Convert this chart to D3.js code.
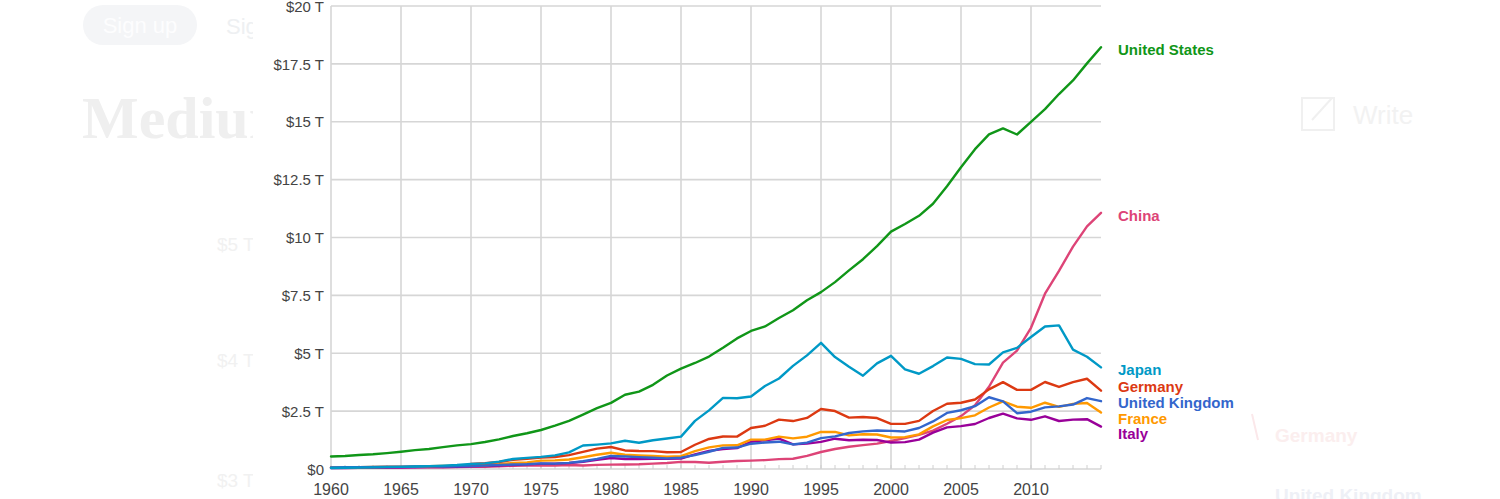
<!DOCTYPE html>
<html>
<head>
<meta charset="utf-8">
<script src="https://cdn.jsdelivr.net/npm/d3@7"></script>
<style>
html,body{margin:0;padding:0;background:#fff;overflow:hidden;}
svg{display:block;font-family:"Liberation Sans",Arial,sans-serif;}
</style>
</head>
<body>
<svg id="chart" width="1500" height="499"></svg>
<script>
// ---- data (GDP, current US$, trillions) ----
const years = d3.range(1960, 2016);
const yTicks = [0, 2.5, 5, 7.5, 10, 12.5, 15, 17.5, 20];
const yTickLabels = ["$0", "$2.5 T", "$5 T", "$7.5 T", "$10 T", "$12.5 T", "$15 T", "$17.5 T", "$20 T"];
const xTicks = [1960, 1965, 1970, 1975, 1980, 1985, 1990, 1995, 2000, 2005, 2010];

const countries = ["United States", "China", "Japan", "Germany", "United Kingdom", "France", "Italy"];
const colors = ["#109618", "#dd4477", "#0099c6", "#dc3912", "#3366cc", "#ff9900", "#990099"];

const unitedStates = [0.543,0.563,0.605,0.638,0.686,0.744,0.815,0.862,0.943,1.020,1.073,1.165,1.280,1.425,1.545,1.685,1.873,2.082,2.352,2.627,2.857,3.207,3.343,3.634,4.037,4.339,4.580,4.855,5.236,5.642,5.963,6.158,6.520,6.859,7.287,7.640,8.073,8.578,9.063,9.631,10.252,10.582,10.936,11.458,12.214,13.037,13.815,14.452,14.713,14.449,14.992,15.543,16.197,16.785,17.522,18.219];
const china = [0.060,0.050,0.047,0.051,0.060,0.070,0.077,0.073,0.070,0.079,0.093,0.100,0.114,0.139,0.144,0.163,0.154,0.175,0.150,0.178,0.191,0.196,0.205,0.230,0.260,0.309,0.301,0.273,0.312,0.348,0.361,0.383,0.427,0.445,0.564,0.734,0.864,0.962,1.029,1.094,1.211,1.339,1.471,1.660,1.955,2.286,2.752,3.552,4.598,5.110,6.101,7.573,8.561,9.607,10.482,11.065];
const japan = [0.044,0.054,0.061,0.070,0.082,0.091,0.106,0.124,0.147,0.172,0.213,0.241,0.318,0.432,0.479,0.522,0.587,0.721,1.014,1.055,1.105,1.219,1.135,1.243,1.318,1.399,2.079,2.533,3.072,3.055,3.133,3.584,3.909,4.455,4.907,5.449,4.834,4.415,4.032,4.562,4.888,4.304,4.115,4.446,4.815,4.755,4.530,4.515,5.038,5.231,5.700,6.157,6.203,5.156,4.851,4.390];
const germany = [null,null,null,null,null,null,null,null,null,null,0.215,0.249,0.300,0.398,0.445,0.490,0.520,0.601,0.741,0.882,0.951,0.801,0.777,0.770,0.725,0.733,1.047,1.298,1.402,1.398,1.772,1.868,2.132,2.071,2.206,2.592,2.503,2.219,2.244,2.200,1.950,1.950,2.079,2.506,2.819,2.861,3.003,3.440,3.752,3.418,3.417,3.758,3.544,3.753,3.898,3.382];
const unitedKingdom = [0.072,0.077,0.081,0.086,0.094,0.101,0.108,0.113,0.108,0.117,0.131,0.148,0.170,0.193,0.206,0.241,0.233,0.263,0.335,0.438,0.564,0.540,0.515,0.489,0.461,0.489,0.602,0.745,0.911,0.926,1.093,1.143,1.180,1.061,1.140,1.335,1.408,1.554,1.625,1.660,1.648,1.622,1.771,2.054,2.422,2.538,2.713,3.100,2.923,2.411,2.475,2.660,2.704,2.784,3.064,2.929];
const france = [0.062,0.068,0.076,0.085,0.094,0.102,0.110,0.119,0.130,0.141,0.149,0.165,0.204,0.264,0.286,0.361,0.373,0.410,0.507,0.614,0.701,0.615,0.585,0.559,0.530,0.554,0.772,0.935,1.019,1.025,1.269,1.269,1.401,1.323,1.394,1.601,1.605,1.452,1.503,1.492,1.362,1.376,1.494,1.840,2.116,2.196,2.319,2.657,2.918,2.690,2.643,2.862,2.684,2.811,2.852,2.438];
const italy = [0.040,0.045,0.050,0.058,0.063,0.068,0.073,0.081,0.088,0.097,0.113,0.125,0.145,0.174,0.199,0.228,0.230,0.258,0.315,0.393,0.477,0.431,0.428,0.440,0.440,0.454,0.632,0.784,0.862,0.905,1.178,1.243,1.316,1.062,1.096,1.171,1.309,1.240,1.266,1.252,1.142,1.163,1.267,1.569,1.799,1.853,1.943,2.203,2.391,2.185,2.125,2.276,2.073,2.131,2.152,1.832];

const seriesValues = [unitedStates, china, japan, germany, unitedKingdom, france, italy];

// ---- faint background page (screenshot underlay) ----
const bgTexts = [
  {t:"Sig", x:226, y:34, size:22, w:"normal", c:"#eef0f2", f:"Liberation Sans"},
  {t:"Medium", x:82, y:138, size:60, w:"bold", c:"#efefef", f:"Liberation Serif"},
  {t:"$5 T", x:217, y:251, size:19, w:"normal", c:"#f1f1f1", f:"Liberation Sans"},
  {t:"$4 T", x:217, y:367, size:19, w:"normal", c:"#f1f1f1", f:"Liberation Sans"},
  {t:"$3 T", x:217, y:487, size:19, w:"normal", c:"#f1f1f1", f:"Liberation Sans"},
  {t:"Write", x:1353, y:124, size:26, w:"normal", c:"#f2f2f2", f:"Liberation Sans"},
  {t:"Germany", x:1275, y:442, size:19, w:"bold", c:"#fbeeee", f:"Liberation Sans"},
  {t:"United Kingdom", x:1275, y:502, size:19, w:"bold", c:"#eef0f6", f:"Liberation Sans"}
];

const svg = d3.select("#chart");
const bg = svg.append("g");
bg.append("defs").append("clipPath").attr("id","leftclip")
  .append("rect").attr("x",0).attr("y",0).attr("width",253).attr("height",499);
bg.append("rect").attr("x",83).attr("y",5).attr("width",114).attr("height",40).attr("rx",20)
  .attr("fill","#f4f5f7");
bg.append("text").attr("x",140).attr("y",33).attr("text-anchor","middle")
  .attr("font-size",22).attr("fill","#fdfdfe").text("Sign up");
bg.selectAll("text.bgt").data(bgTexts).join("text").attr("class","bgt")
  .attr("x",d=>d.x).attr("y",d=>d.y).attr("font-size",d=>d.size).attr("font-weight",d=>d.w)
  .attr("font-family",d=>d.f).attr("fill",d=>d.c)
  .attr("clip-path",d=>d.x<253?"url(#leftclip)":null)
  .text(d=>d.t);
bg.append("rect").attr("x",1302).attr("y",98).attr("width",32).attr("height",32)
  .attr("fill","none").attr("stroke","#f0f0f0").attr("stroke-width",2);
bg.append("line").attr("x1",1312).attr("y1",120).attr("x2",1332).attr("y2",98)
  .attr("stroke","#f0f0f0").attr("stroke-width",2);
bg.append("line").attr("x1",1252).attr("y1",414).attr("x2",1258).attr("y2",440)
  .attr("stroke","#fbe8ea").attr("stroke-width",2);

// ---- scales ----
const x = d3.scaleLinear().domain([1960, 2015]).range([331, 1101]);
const y = d3.scaleLinear().domain([0, 20]).range([469, 6]);

const grid = svg.append("g");
grid.selectAll("line.h").data(yTicks).join("line").attr("class","h")
  .attr("x1", x(1960)).attr("x2", x(2015))
  .attr("y1", d=>y(d)).attr("y2", d=>y(d))
  .attr("stroke", "#d6d6d6").attr("stroke-width", 1.6);
grid.selectAll("line.v").data(xTicks).join("line").attr("class","v")
  .attr("x1", d=>x(d)).attr("x2", d=>x(d))
  .attr("y1", y(20)).attr("y2", y(0))
  .attr("stroke", "#d6d6d6").attr("stroke-width", 1.6);
grid.selectAll("line.m").data(years).join("line").attr("class","m")
  .attr("x1", d=>x(d)).attr("x2", d=>x(d))
  .attr("y1", y(0)).attr("y2", y(0)-4)
  .attr("stroke", "#d0d0d0").attr("stroke-width", 1);

// y axis labels
svg.append("g").selectAll("text").data(yTicks).join("text")
  .attr("x", 324).attr("y", d=>y(d)).attr("dy","0.38em")
  .attr("text-anchor","end").attr("font-size",15).attr("fill","#444")
  .text((d,i)=>yTickLabels[i]);

// x axis labels
svg.append("g").selectAll("text").data(xTicks).join("text")
  .attr("x", d=>x(d)).attr("y", 494.5)
  .attr("text-anchor","middle").attr("font-size",16).attr("fill","#444")
  .text(d=>d);

// ---- lines ----
const line = d3.line()
  .defined(d => d.v !== null)
  .x(d => x(d.year)).y(d => y(d.v));

const series = countries.map((name, i) => ({
  name, color: colors[i],
  points: years.map((yr, j) => ({year: yr, v: seriesValues[i][j]}))
}));

const drawOrder = [1, 6, 5, 4, 3, 2, 0];
svg.append("g").selectAll("path").data(drawOrder.map(i=>series[i])).join("path")
  .attr("d", d => line(d.points))
  .attr("fill","none").attr("stroke", d=>d.color)
  .attr("stroke-width", 2.4).attr("stroke-linejoin","round").attr("stroke-linecap","round");

// ---- end labels with collision avoidance ----
const labels = series.map(s => {
  const last = s.points[s.points.length-1].v;
  return {name: s.name, color: s.color, ideal: y(last), pos: y(last)};
}).sort((a,b)=>a.ideal-b.ideal);
const gap = 15.8;
let groups = labels.map(l=>[l]);
let merged = true;
while (merged) {
  merged = false;
  for (let g=0; g<groups.length-1; g++) {
    const a = groups[g], b = groups[g+1];
    const aMean = d3.mean(a, l=>l.ideal), bMean = d3.mean(b, l=>l.ideal);
    const aBottom = aMean + (a.length-1)*gap/2;
    const bTop = bMean - (b.length-1)*gap/2;
    if (bTop - aBottom < gap) {
      groups.splice(g, 2, a.concat(b)); merged = true; break;
    }
  }
}
groups.forEach(g => {
  const m = d3.mean(g, l=>l.ideal);
  g.forEach((l,k)=>{ l.pos = m + (k - (g.length-1)/2)*gap; });
});
svg.append("g").selectAll("text").data(labels).join("text")
  .attr("x", 1118).attr("y", d=>d.pos + 2.5).attr("dy","0.36em")
  .attr("font-size",15).attr("font-weight","bold").attr("fill", d=>d.color)
  .text(d=>d.name);
</script>
</body>
</html>
